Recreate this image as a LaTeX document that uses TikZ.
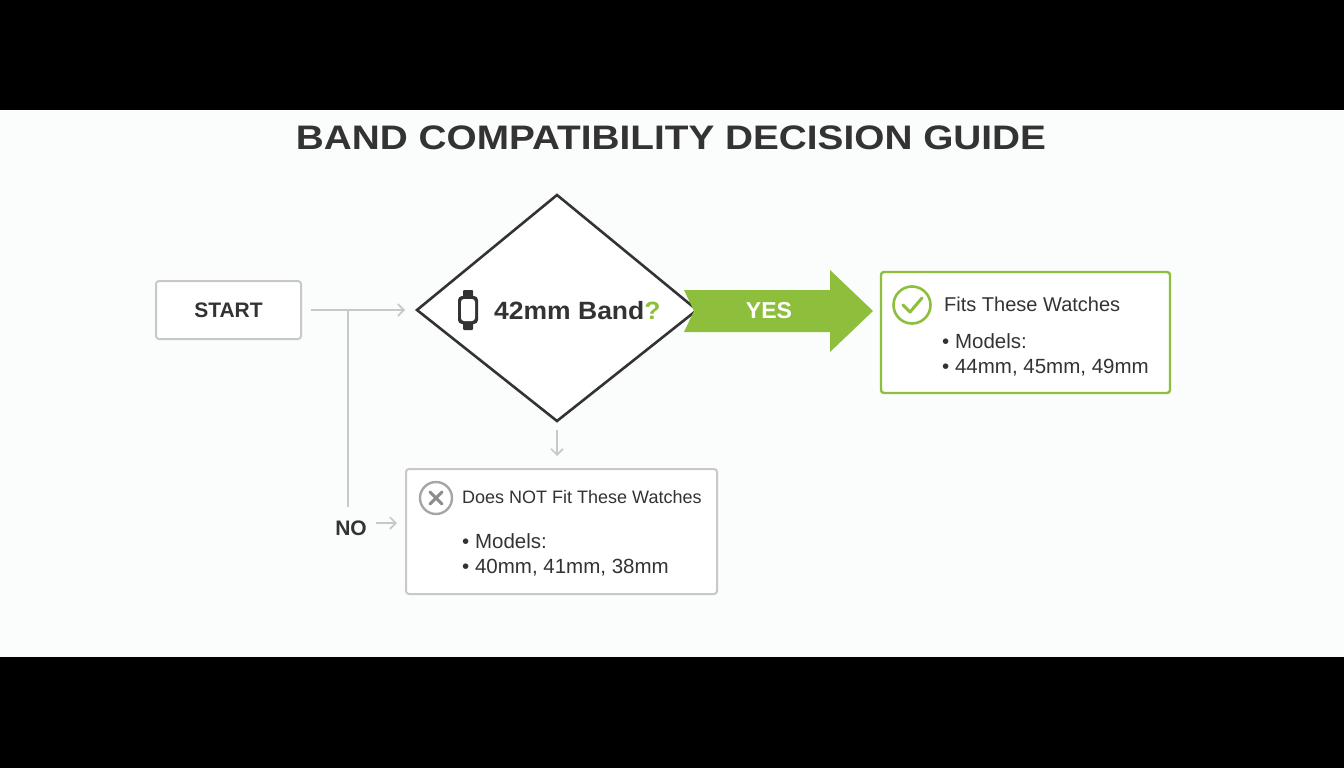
\documentclass[tikz,border=0pt]{standalone}
\usepackage{fontspec}
\setmainfont{Liberation Sans}
\usetikzlibrary{arrows.meta}
\definecolor{ink}{HTML}{333333}
\definecolor{lgray}{HTML}{C8C8C8}
\definecolor{grn}{HTML}{8DBF3D}
\definecolor{bg}{HTML}{FBFCFC}
\begin{document}
\begin{tikzpicture}[x=1pt,y=-1pt,
  box/.style={draw=lgray,line width=2pt,rounded corners=3pt,fill=white},
  conn/.style={draw=lgray,line width=1.6pt},
  arr/.style={conn,-{Straight Barb[length=6pt,width=12pt]}},
  lbl/.style={inner sep=0,anchor=west,text=ink}]
\fill[black] (0,0) rectangle (1344,768);
\fill[bg] (0,110) rectangle (1344,657);
\useasboundingbox (0,0) rectangle (1344,768);
\node[text=ink,font=\bfseries\fontsize{34}{36}\selectfont] (title) at (671,138) {\scalebox{1.14}[1]{BAND COMPATIBILITY DECISION GUIDE}};
% start
\node[box,minimum width=145,minimum height=58,text=ink,font=\bfseries\fontsize{21}{24}\selectfont] (start) at (228.5,310) {START};
% diamond
\coordinate (dl) at (417,310); \coordinate (dt) at (557,195);
\coordinate (dr) at (697,310); \coordinate (db) at (557,421);
\draw[ink,line width=2.6pt,fill=white,line join=miter] (dl)--(dt)--(dr)--(db)--cycle;
\node[lbl,font=\bfseries\fontsize{25}{28}\selectfont] (q) at (494,311) {\scalebox{1.06}[1]{42mm Band\textcolor{grn}{?}}};
% watch icon
\fill[ink,rounded corners=1pt] (463,290) rectangle (473,298);
\fill[ink,rounded corners=1pt] (463,322) rectangle (473,330);
\fill[ink,rounded corners=4pt] (458,296) rectangle (478,324);
\fill[white,rounded corners=3pt] (461,299) rectangle (475,321);
% connectors
\coordinate (j) at (348,310);
\draw[arr] (start.east)++(9,0) -- (405,310);
\draw[conn] (j) -- (348,507);
\draw[arr] (557,430) -- (557,456);
% yes arrow
\fill[grn] (684,290) -- (830,290) -- (830,270) -- (873,311) -- (830,352) -- (830,332) -- (684,332) -- (694,311) -- cycle;
\node[text=white,font=\bfseries\fontsize{23}{26}\selectfont] (yes) at (769,311) {YES};
% fits box
\node[box,draw=grn,line width=2.4pt,minimum width=289,minimum height=121] (fits) at (1025.5,332.5) {};
\draw[grn,line width=2.6pt] (912,305) circle (18.5);
\draw[grn,line width=3pt,line cap=round,line join=round] (903,305) -- (910,312) -- (922,298);
\node[lbl,font=\fontsize{20}{22}\selectfont] (ft) at (944,304) {Fits These Watches};
\node[lbl,font=\fontsize{20.5}{22}\selectfont] (f1) at (942,341) {• Models:};
\node[lbl,font=\fontsize{20.5}{22}\selectfont] (f2) at (942,368) {• 44mm, 45mm, 49mm};
% not box
\node[box,minimum width=311,minimum height=125] (nf) at (561.5,531.5) {};
\draw[gray!70,line width=2.4pt] (436,498) circle (16);
\draw[gray!90,line width=3pt,line cap=round] (430,492) -- (442,504) (442,492) -- (430,504);
\node[lbl,font=\fontsize{18}{20}\selectfont] (nt) at (462,497) {Does NOT Fit These Watches};
\node[lbl,font=\fontsize{20.5}{22}\selectfont] (n1) at (462,541) {• Models:};
\node[lbl,font=\fontsize{20.5}{22}\selectfont] (n2) at (462,568) {• 40mm, 41mm, 38mm};
% no
\node[text=ink,font=\bfseries\fontsize{21}{24}\selectfont] (no) at (351,528) {NO};
\draw[arr] (376,523) -- (397,523);
\end{tikzpicture}
\end{document}
